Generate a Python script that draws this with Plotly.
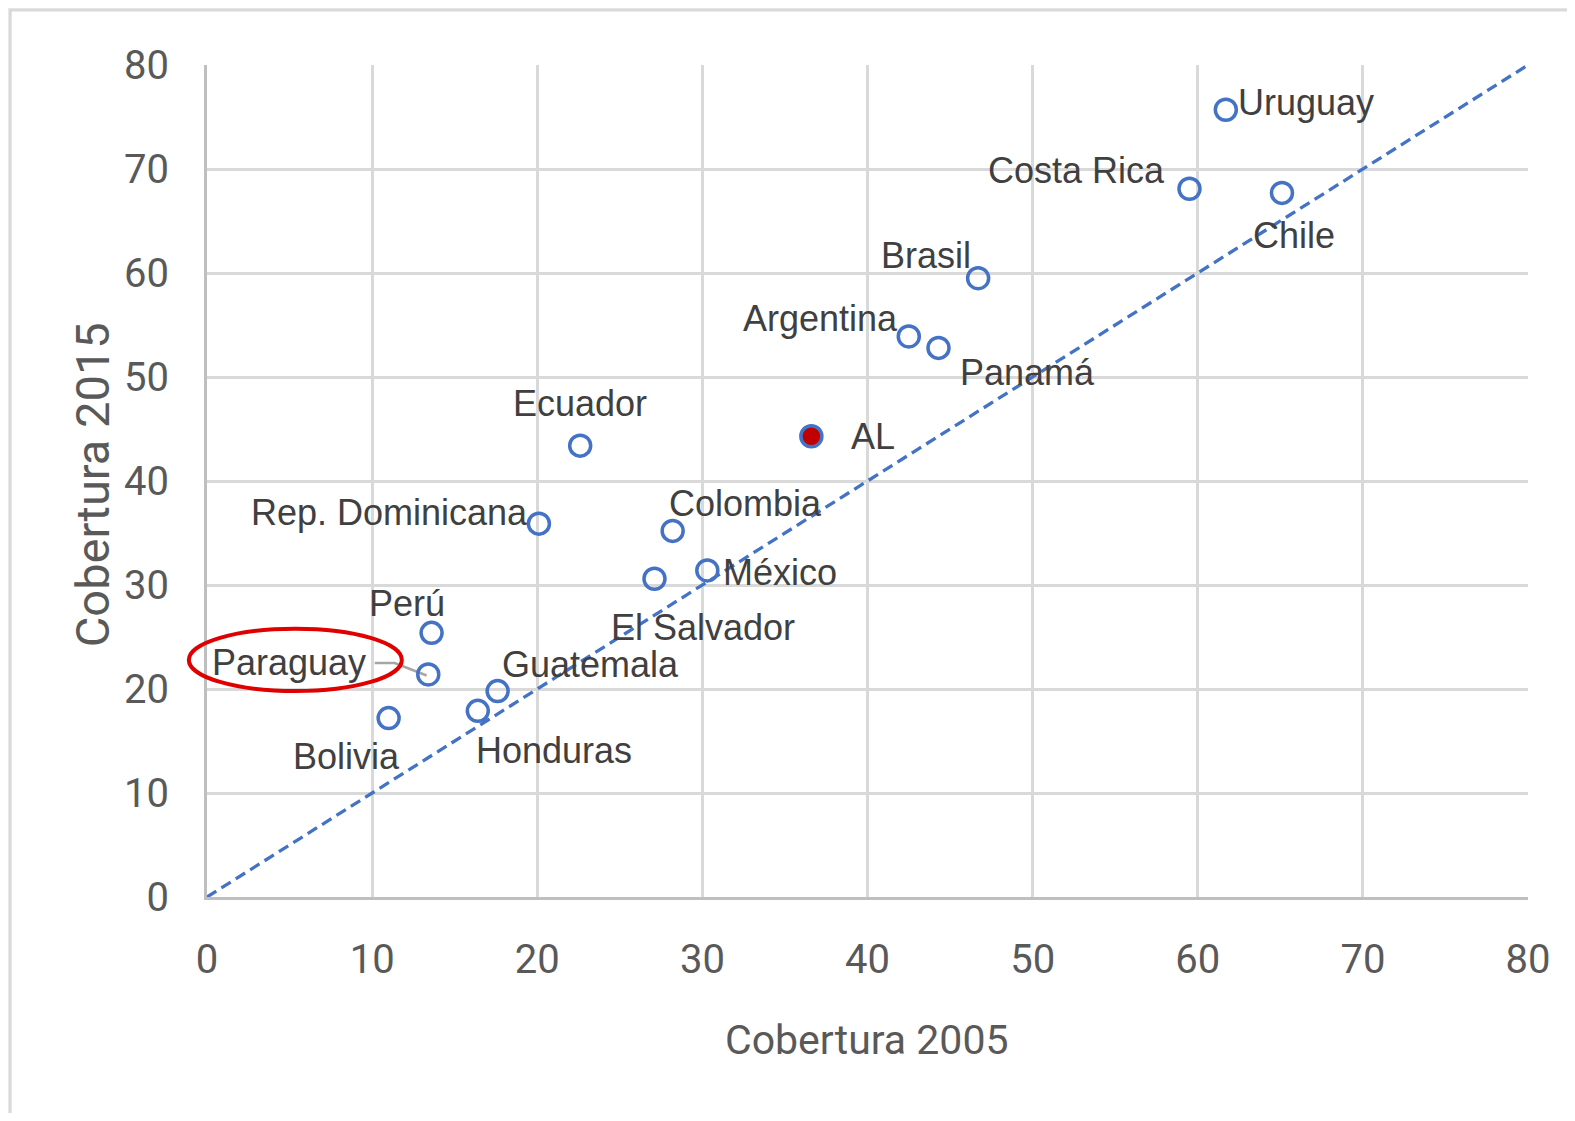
import plotly.graph_objects as go

countries = ["Uruguay", "Costa Rica", "Chile", "Brasil", "Argentina", "Panamá",
             "Ecuador", "Rep. Dominicana", "Colombia", "El Salvador", "México",
             "Perú", "Paraguay", "Guatemala", "Honduras", "Bolivia"]
cob2005 = [61.7, 59.5, 65.1, 46.7, 42.5, 44.3, 22.6, 20.1, 28.2, 27.1, 30.3,
           13.6, 13.4, 17.6, 16.4, 11.0]
cob2015 = [75.7, 68.1, 67.7, 59.5, 53.9, 52.8, 43.4, 35.9, 35.2, 30.6, 31.4,
           25.4, 21.4, 19.8, 17.9, 17.2]
al_name = ["AL"]
al2005 = [36.6]
al2015 = [44.3]
ref_line = [0, 80]
ticks = [0, 10, 20, 30, 40, 50, 60, 70, 80]

# label placement: (xanchor, xshift, yshift)
label_pos = {
    "Uruguay": ("left", 10, 7),
    "Costa Rica": ("right", -22, 18),
    "Chile": ("center", 12, -43),
    "Brasil": ("right", -5, 23),
    "Argentina": ("right", -9, 18),
    "Panamá": ("left", 19, -25),
    "Ecuador": ("center", 0, 42),
    "Rep. Dominicana": ("right", -9, 11),
    "Colombia": ("left", -6, 27),
    "El Salvador": ("left", -45, -49),
    "México": ("left", 14, -2),
    "Perú": ("center", -25, 29),
    "Paraguay": ("right", -60, 12),
    "Guatemala": ("left", 2, 27),
    "Honduras": ("left", -4, -40),
    "Bolivia": ("center", -42, -38),
}

BLUE = "#4472C4"
LABEL_FONT = dict(family="Liberation Sans, Arial, sans-serif", size=36, color="#404040")
TICK_FONT = dict(family="Liberation Sans Narrow, Roboto, Liberation Sans, Arial, sans-serif",
                 size=40, color="#595959")

fig = go.Figure()
fig.add_trace(go.Scatter(x=ref_line, y=ref_line, mode="lines",
                         line=dict(color=BLUE, width=3.3, dash="11px,6px"),
                         hoverinfo="skip", showlegend=False))
fig.add_trace(go.Scatter(x=cob2005, y=cob2015, mode="markers", text=countries,
                         marker=dict(symbol="circle-open", size=21, color=BLUE,
                                     line=dict(width=3.5, color=BLUE)),
                         showlegend=False, cliponaxis=False))
fig.add_trace(go.Scatter(x=al2005, y=al2015, mode="markers", text=al_name,
                         marker=dict(symbol="circle", size=21, color="#C00000",
                                     line=dict(width=3.5, color=BLUE)),
                         showlegend=False, cliponaxis=False))

annotations = []
for name, xv, yv in zip(countries, cob2005, cob2015):
    xa, xs, ys = label_pos[name]
    annotations.append(dict(x=xv, y=yv, xref="x", yref="y", text=name, showarrow=False,
                            xanchor=xa, yanchor="middle", xshift=xs, yshift=ys,
                            font=LABEL_FONT))
annotations.append(dict(x=al2005[0], y=al2015[0], xref="x", yref="y", text=al_name[0],
                        showarrow=False, xanchor="left", yanchor="middle", xshift=38,
                        yshift=0, font=LABEL_FONT))
annotations.append(dict(x=0.499, y=-0.172, xref="paper", yref="paper", text="Cobertura 2005",
                        showarrow=False, xanchor="center", yanchor="middle",
                        font=dict(TICK_FONT, size=41)))
annotations.append(dict(x=-0.087, y=0.495, xref="paper", yref="paper", text="Cobertura 2015",
                        showarrow=False, xanchor="center", yanchor="middle", textangle=-90,
                        font=dict(TICK_FONT, size=47)))

shapes = [
    # outer chart frame
    dict(type="rect", xref="paper", yref="paper", x0=-0.149, x1=1.06, y0=-0.3, y1=1.066,
         fillcolor="white", line=dict(color="#d9d9d9", width=3), layer="below"),
    # red ellipse around Paraguay
    dict(type="circle", xref="paper", yref="paper", x0=-1.1 / 80, x1=11.8 / 80,
         y0=19.8 / 80, y1=25.8 / 80, line=dict(color="#E00000", width=4),
         fillcolor="rgba(0,0,0,0)", layer="above"),
    # leader line for Paraguay
    dict(type="path", xref="x", yref="y", path="M 10.16 22.5 L 11.37 22.5 L 13.3 21.3",
         line=dict(color="#a6a6a6", width=2.5), layer="below"),
]

# page body has an 8px margin: shrink the figure so the plot lands where the reference has it
fig.update_layout(
    width=1559, height=1105,
    margin=dict(l=199, r=39, t=57, b=216),
    paper_bgcolor="#f0f0f0", plot_bgcolor="white",
    annotations=annotations, shapes=shapes,
    xaxis=dict(range=[0, 80], tickvals=ticks, ticktext=[str(t) for t in ticks],
               showgrid=True, gridcolor="#d9d9d9", gridwidth=3, zeroline=False,
               showline=True, linecolor="#bfbfbf", linewidth=3, mirror=False,
               ticks="", tickfont=TICK_FONT, ticklabelstandoff=25),
    yaxis=dict(range=[0, 80], tickvals=ticks, ticktext=[str(t) for t in ticks],
               showgrid=True, gridcolor="#d9d9d9", gridwidth=3, zeroline=False,
               showline=True, linecolor="#bfbfbf", linewidth=3, mirror=False,
               ticks="", tickfont=TICK_FONT, ticklabelstandoff=27),
)

fig.write_html("out.html")
